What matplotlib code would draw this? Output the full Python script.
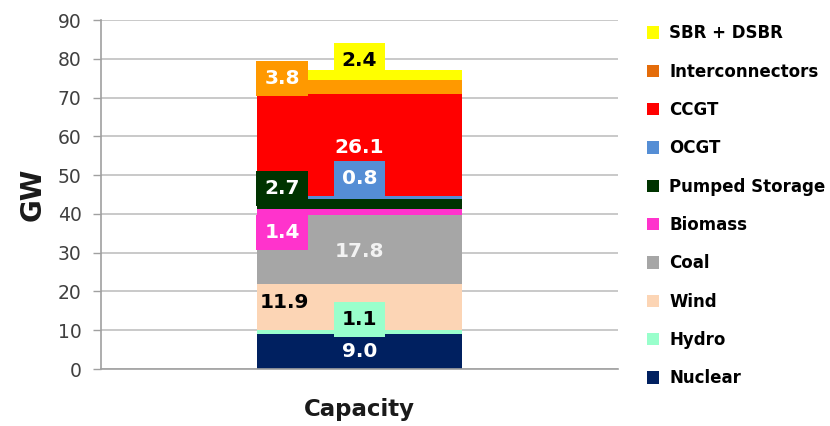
import matplotlib.pyplot as plt
from matplotlib.patches import Patch

plt.rcParams['font.family'] = ['DejaVu Sans']

# Installed capacity by technology, bottom to top of the stack (GW)
technologies = ['Nuclear', 'Hydro', 'Wind', 'Coal', 'Biomass', 'Pumped Storage',
                'OCGT', 'CCGT', 'Interconnectors', 'SBR + DSBR']
capacity_gw = [9.0, 1.1, 11.9, 17.8, 1.4, 2.7, 0.8, 26.1, 3.8, 2.4]
colors = ['#002060', '#99ffcc', '#fcd5b5', '#a6a6a6', '#ff33cc', '#003300',
          '#558ed5', '#ff0000', '#ff9900', '#ffff00']
legend_colors = ['#002060', '#99ffcc', '#fcd5b5', '#a6a6a6', '#ff33cc', '#003300',
                 '#558ed5', '#ff0000', '#e46c0a', '#ffff00']
label_colors = ['white', 'black', 'black', '#f2f2f2', 'white', 'white',
                'white', 'white', 'white', 'black']

# data label placement: horizontal anchor, vertical shift from segment middle,
# and whether the label sits on its own coloured box
label_x = [0.0, 0.0, -0.145, 0.0, -0.15, -0.15, 0.0, 0.0, -0.15, 0.0]
label_dy = [0.0, 3.3, 1.2, -0.7, -5.2, 4.0, 4.9, -0.5, 2.3, 3.8]
label_boxed = [False, True, False, False, True, True, True, False, True, True]

bar_width = 0.396

fig = plt.figure(figsize=(8.3, 4.26), dpi=100)
ax = fig.add_axes([0.1217, 0.1338, 0.7446 - 0.1217, 0.953 - 0.1338])

bottom = 0.0
for val, col, tcol, lx, dy, boxed in zip(capacity_gw, colors, label_colors,
                                         label_x, label_dy, label_boxed):
    ax.bar(0, val, bottom=bottom, width=bar_width, color=col, zorder=2)
    bbox = None
    if boxed:
        bbox = dict(boxstyle='square,pad=0.4', facecolor=col, edgecolor='none')
    ax.text(lx, bottom + val / 2 + dy, f'{val:.1f}', ha='center', va='center',
            fontsize=14.5, fontweight='bold', color=tcol, bbox=bbox, zorder=4)
    bottom += val

ax.set_xlim(-0.5, 0.5)
ax.set_ylim(0, 90)
ax.set_yticks(range(0, 91, 10))
ax.set_xticks([0])
ax.set_xticklabels(['Capacity'], fontsize=16.5, fontweight='bold', color='#1a1a1a')
ax.tick_params(axis='x', length=0, pad=21)
ax.tick_params(axis='y', labelsize=13.5, colors='#a0a0a0', labelcolor='#404040',
               length=6, width=1, pad=8)
ax.set_ylabel('GW', fontsize=20, fontweight='bold', color='#1a1a1a', labelpad=8)

ax.grid(axis='y', color='#c0c0c0', linewidth=1.2, zorder=0)
for side in ['top', 'right']:
    ax.spines[side].set_visible(False)
for side in ['left', 'bottom']:
    ax.spines[side].set_color('#a0a0a0')
    ax.spines[side].set_linewidth(1.2)

handles = [Patch(facecolor=c, edgecolor='none') for c in legend_colors[::-1]]
fig.legend(handles, technologies[::-1], loc='upper left',
           bbox_to_anchor=(0.761, 0.978), frameon=False,
           prop={'weight': 'bold', 'size': 12}, handlelength=0.75,
           handleheight=0.75, handletextpad=0.6, labelspacing=1.22)

fig.savefig('out.png', dpi=100)
